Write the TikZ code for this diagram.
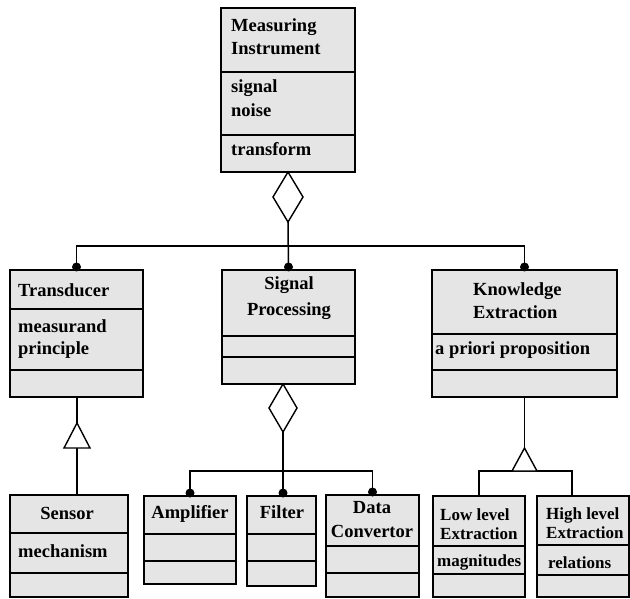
\documentclass[tikz,border=0pt]{standalone}
\usepackage{fontspec}
\setmainfont{Liberation Serif}
\usetikzlibrary{shapes.geometric}
\newcommand\clsfont{\fontsize{18.5}{23}\selectfont\bfseries}
\newcommand\smallclsfont{\fontsize{17}{20}\selectfont\bfseries}
\newcommand\umlbox[7]{%
  \node[cls, minimum width={#4-#2}, minimum height={#5-#3}] (#1) at (#2,#3) {};
  \draw[divline] (#2,#6) -- (#4,#6);
  \draw[divline] (#2,#7) -- (#4,#7);}
\tikzset{
  cls/.style={draw, line width=1.6pt, fill=black!10, inner sep=0pt, outer sep=0pt, anchor=north west},
  divline/.style={line width=1.3pt},
  lt/.style={inner sep=0pt, anchor=base west, font=\clsfont},
  ct/.style={inner sep=0pt, anchor=base, font=\clsfont},
  slt/.style={inner sep=0pt, anchor=base west, font=\smallclsfont},
  conn/.style={line width=1.5pt},
  aggd/.style={diamond, draw, line width=1.4pt, fill=white, inner sep=0pt, outer sep=0pt, anchor=north},
  gen/.style={line width=1.4pt, fill=white, line join=miter},
  jdot/.style={fill=black}
}
\begin{document}
\begin{tikzpicture}[x=1pt, y=-1pt]
\useasboundingbox (0,0) rectangle (630,599);

% class boxes
\umlbox{mi}{221}{8}{355}{172}{72}{135}
\umlbox{tr}{10}{270}{143}{397}{309}{370}
\umlbox{sp}{222}{270}{355}{384}{336}{357}
\umlbox{ke}{432}{270}{617}{397}{334}{370}
\umlbox{se}{10}{495}{128}{597}{533}{573}
\umlbox{am}{144}{496}{236}{584}{534}{561}
\umlbox{fi}{247}{496}{316}{586}{534}{561}
\umlbox{dc}{326}{495}{419}{597}{546}{573}
\umlbox{ll}{433}{496}{525}{597}{546}{574}
\umlbox{hl}{537}{496}{629}{597}{545}{575}

% texts
\node[lt] (t1) at (231,32) {Measuring};
\node[lt] (t2) at (231,55) {Instrument};
\node[lt] (t3) at (231,93) {signal};
\node[lt] (t4) at (231,117) {noise};
\node[lt] (t5) at (231,156) {transform};

\node[lt] (t6) at (18,296) {Transducer};
\node[lt] (t7) at (18,332) {measurand};
\node[lt] (t8) at (18,354) {principle};

\node[ct] (t9) at (289,290) {Signal};
\node[ct] (t10) at (289,316) {Processing};

\node[lt] (t11) at (473,295) {Knowledge};
\node[lt] (t12) at (473,319) {Extraction};
\node[lt] (t13) at (435,354) {a priori proposition};

\node[ct] (t14) at (67,519) {Sensor};
\node[lt] (t15) at (18,557) {mechanism};

\node[ct] (t16) at (190,518) {Amplifier};
\node[ct] (t17) at (282,518) {Filter};
\node[ct] (t18) at (372,513) {Data};
\node[ct] (t19) at (372,537) {Convertor};

\node[slt] (t20) at (440,520) {Low level};
\node[slt] (t21) at (440,539) {Extraction};
\node[slt] (t22) at (437,566) {magnitudes};

\node[slt] (t23) at (546,519) {High level};
\node[slt] (t24) at (546,538) {Extraction};
\node[slt] (t25) at (548,568) {relations};

% aggregation: Measuring Instrument
\node[aggd, minimum width=30pt, minimum height=50pt] (d1) at (mi.south) {};
\coordinate (bus1) at (288,246);
\draw[conn] (tr.north) |- (bus1) -| (ke.north);
\draw[conn] (d1.south) -- (sp.north);
\fill[jdot] (tr.north) ++(0,-3) circle[radius=4.5pt];
\fill[jdot] (sp.north) ++(0,-3) circle[radius=4.5pt];
\fill[jdot] (ke.north) ++(0,-3) circle[radius=4.5pt];

% generalization: Sensor -> Transducer
\coordinate (g1) at (77,423);
\coordinate (g1b) at (77,448);
\coordinate (sec) at (77,495);
\draw[conn] (tr.south -| g1) -- (g1);
\draw[conn] (g1b) -- (sec);
\draw[gen] (g1) -- ++(13,25) -- ++(-26,0) -- cycle;

% aggregation: Signal Processing
\node[aggd, minimum width=28pt, minimum height=48pt] (d2) at (283,384) {};
\coordinate (bus2) at (283,471);
\draw[conn] (am.north) |- (bus2) -| (dc.north);
\draw[conn] (d2.south) -- (bus2 |- fi.north);
\fill[jdot] (am.north) ++(0,-3) circle[radius=4.5pt];
\fill[jdot] (bus2 |- fi.north) ++(0,-3) circle[radius=4.5pt];
\fill[jdot] (dc.north) ++(0,-3) circle[radius=4.5pt];

% generalization: Low/High level -> Knowledge Extraction
\coordinate (g2) at (524.5,448);
\coordinate (bus3) at (524.5,471);
\coordinate (hlc) at (572,496);
\draw[conn] (ke.south) -- (g2);
\draw[conn] (ll.north) |- (bus3) -| (hlc);
\draw[gen] (g2) -- ++(12.5,23) -- ++(-25,0) -- cycle;
\end{tikzpicture}
\end{document}
